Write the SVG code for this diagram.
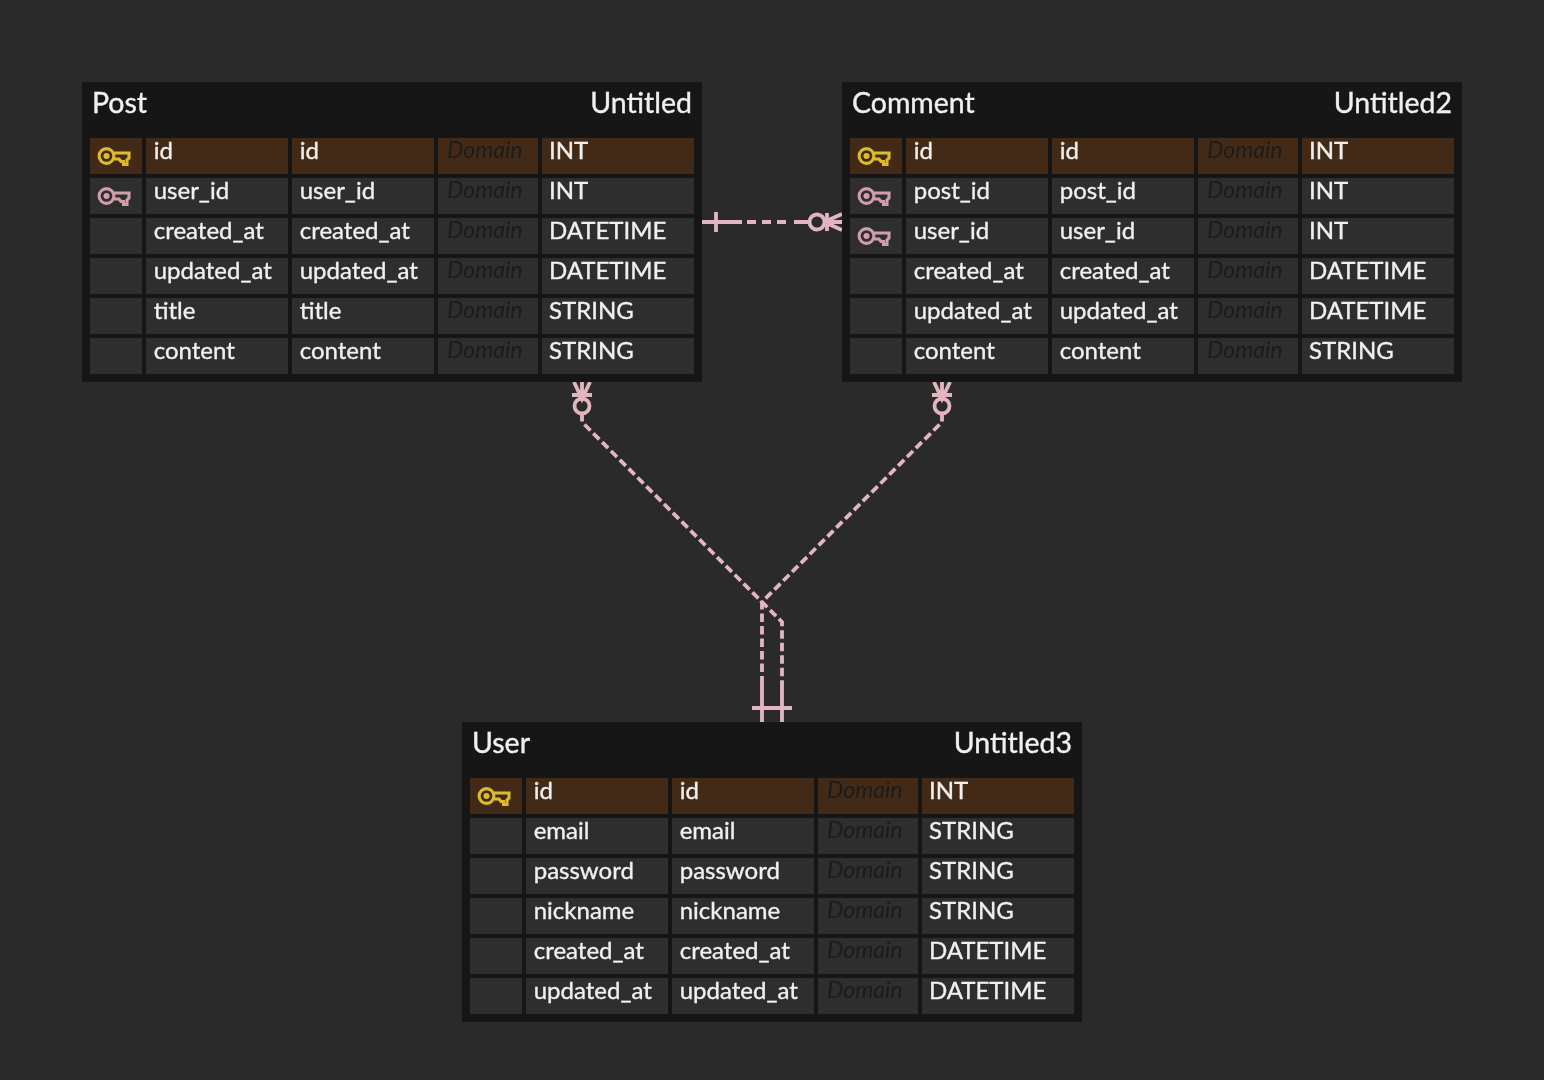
<svg xmlns="http://www.w3.org/2000/svg" width="1544" height="1080" viewBox="0 0 1544 1080">
<style>
text{font-family:Lato,"Open Sans","Liberation Sans",sans-serif;font-size:24px;fill:#f0f0f0;stroke:#f0f0f0;stroke-width:.35px}
.title{font-size:28.5px}
.end{text-anchor:end}
.dom{font-style:italic;font-size:23px;fill:#1c1c1c;stroke:none}
.pk{fill:#422c19}
.row{fill:#2d2d2d}
.tbl{fill:#191919}
.conn{fill:none;stroke:#e3b5c0;stroke-width:3.800}
.dash{stroke-dasharray:8.500 4}
.kpk{stroke:#dcbc2e}
.kfk{stroke:#cfa0ac}
.k{fill:none;stroke-width:3.100}
</style>
<defs>
<filter id="soft" x="0" y="0" width="1544" height="1080" filterUnits="userSpaceOnUse"><feGaussianBlur stdDeviation="0.75"/></filter>
<g id="cells">
<rect x="8" width="52" height="36"/><rect x="64" width="142" height="36"/><rect x="210" width="142" height="36"/><rect x="356" width="100" height="36"/><rect x="460" width="152" height="36"/>
</g>
<g id="key">
<circle cx="24.500" cy="18" r="7.400"/><circle cx="24.500" cy="18" r="1.500"/>
<path d="M32 15H47V20L45 22V26.500H41.500V23.500H39L37 21H32"/>
</g>
</defs>
<rect width="1544" height="1080" fill="#2a2a2a"/>
<g id="diagram" filter="url(#soft)">
<g id="connectors">
<g class="conn">
<path d="M702 222H795" stroke-dasharray="40 5 9 6 9 6 9 8 30"/>
<path d="M716 212V232M795 222H810"/>
<circle cx="817" cy="222" r="7.500"/>
<path d="M827 213V231M824 222L842 214M824 222H842M824 222L842 230"/>
<path d="M582 413V422L762 602V682" class="dash"/>
<path d="M942 413V422L762 602L782 622V682" class="dash"/>
<path d="M582 382V399M574 382L582 399L590 382M572 395H592"/>
<circle cx="582" cy="406" r="7.500"/>
<path d="M942 382V399M934 382L942 399L950 382M932 395H952"/>
<circle cx="942" cy="406" r="7.500"/>
<path d="M762 682V722M782 682V722M752 708H792"/>
</g>
</g>
<g id="post" transform="translate(82 82)">
<rect class="tbl" width="620" height="300"/>
<text class="title" x="10" y="31">Post</text><text class="title end" x="610" y="31">Untitled</text>
<use href="#cells" class="pk" y="56"/><use href="#cells" class="row" y="96"/><use href="#cells" class="row" y="136"/><use href="#cells" class="row" y="176"/><use href="#cells" class="row" y="216"/><use href="#cells" class="row" y="256"/>
<use href="#key" class="k kpk" y="56"/><use href="#key" class="k kfk" y="96"/>
<text x="71.700" y="77">id</text><text x="217.700" y="77">id</text><text class="dom" x="365" y="76">Domain</text><text x="467" y="77">INT</text>
<text x="71.700" y="117">user_id</text><text x="217.700" y="117">user_id</text><text class="dom" x="365" y="116">Domain</text><text x="467" y="117">INT</text>
<text x="71.700" y="157">created_at</text><text x="217.700" y="157">created_at</text><text class="dom" x="365" y="156">Domain</text><text x="467" y="157">DATETIME</text>
<text x="71.700" y="197">updated_at</text><text x="217.700" y="197">updated_at</text><text class="dom" x="365" y="196">Domain</text><text x="467" y="197">DATETIME</text>
<text x="71.700" y="237">title</text><text x="217.700" y="237">title</text><text class="dom" x="365" y="236">Domain</text><text x="467" y="237">STRING</text>
<text x="71.700" y="277">content</text><text x="217.700" y="277">content</text><text class="dom" x="365" y="276">Domain</text><text x="467" y="277">STRING</text>
</g>
<g id="comment" transform="translate(842 82)">
<rect class="tbl" width="620" height="300"/>
<text class="title" x="10" y="31">Comment</text><text class="title end" x="610" y="31">Untitled2</text>
<use href="#cells" class="pk" y="56"/><use href="#cells" class="row" y="96"/><use href="#cells" class="row" y="136"/><use href="#cells" class="row" y="176"/><use href="#cells" class="row" y="216"/><use href="#cells" class="row" y="256"/>
<use href="#key" class="k kpk" y="56"/><use href="#key" class="k kfk" y="96"/><use href="#key" class="k kfk" y="136"/>
<text x="71.700" y="77">id</text><text x="217.700" y="77">id</text><text class="dom" x="365" y="76">Domain</text><text x="467" y="77">INT</text>
<text x="71.700" y="117">post_id</text><text x="217.700" y="117">post_id</text><text class="dom" x="365" y="116">Domain</text><text x="467" y="117">INT</text>
<text x="71.700" y="157">user_id</text><text x="217.700" y="157">user_id</text><text class="dom" x="365" y="156">Domain</text><text x="467" y="157">INT</text>
<text x="71.700" y="197">created_at</text><text x="217.700" y="197">created_at</text><text class="dom" x="365" y="196">Domain</text><text x="467" y="197">DATETIME</text>
<text x="71.700" y="237">updated_at</text><text x="217.700" y="237">updated_at</text><text class="dom" x="365" y="236">Domain</text><text x="467" y="237">DATETIME</text>
<text x="71.700" y="277">content</text><text x="217.700" y="277">content</text><text class="dom" x="365" y="276">Domain</text><text x="467" y="277">STRING</text>
</g>
<g id="user" transform="translate(462 722)">
<rect class="tbl" width="620" height="300"/>
<text class="title" x="10" y="31">User</text><text class="title end" x="610" y="31">Untitled3</text>
<use href="#cells" class="pk" y="56"/><use href="#cells" class="row" y="96"/><use href="#cells" class="row" y="136"/><use href="#cells" class="row" y="176"/><use href="#cells" class="row" y="216"/><use href="#cells" class="row" y="256"/>
<use href="#key" class="k kpk" y="56"/>
<text x="71.700" y="77">id</text><text x="217.700" y="77">id</text><text class="dom" x="365" y="76">Domain</text><text x="467" y="77">INT</text>
<text x="71.700" y="117">email</text><text x="217.700" y="117">email</text><text class="dom" x="365" y="116">Domain</text><text x="467" y="117">STRING</text>
<text x="71.700" y="157">password</text><text x="217.700" y="157">password</text><text class="dom" x="365" y="156">Domain</text><text x="467" y="157">STRING</text>
<text x="71.700" y="197">nickname</text><text x="217.700" y="197">nickname</text><text class="dom" x="365" y="196">Domain</text><text x="467" y="197">STRING</text>
<text x="71.700" y="237">created_at</text><text x="217.700" y="237">created_at</text><text class="dom" x="365" y="236">Domain</text><text x="467" y="237">DATETIME</text>
<text x="71.700" y="277">updated_at</text><text x="217.700" y="277">updated_at</text><text class="dom" x="365" y="276">Domain</text><text x="467" y="277">DATETIME</text>
</g>
</g>
</svg>
